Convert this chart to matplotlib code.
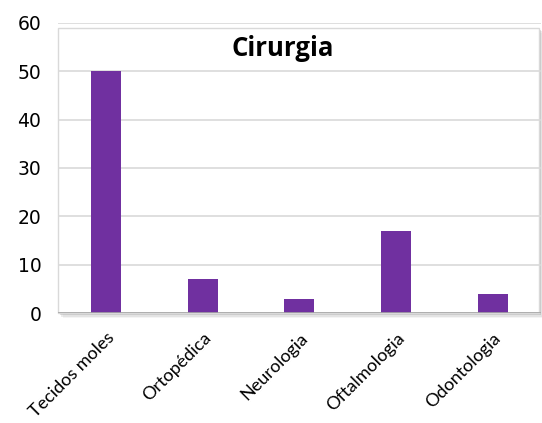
import matplotlib.pyplot as plt
from matplotlib.patches import Rectangle

# data
categorias = ['Tecidos moles', 'Ortopédica', 'Neurologia', 'Oftalmologia', 'Odontologia']
valores = [50, 7, 3, 17, 4]
yticks = [0, 10, 20, 30, 40, 50, 60]

fig = plt.figure(figsize=(5.42, 4.23), dpi=100)
l, b, w, h = 0.107, 0.26, 0.891, 0.686
ax = fig.add_axes([l, b, w, h])
ax.set_zorder(2)

# shadow of the plot area
for off, a in [(5, 0.08), (3.5, 0.14), (2, 0.25)]:
    dx = off / 542
    dy = off / 423
    fig.patches.append(Rectangle((l + dx, b - dy), w - 0.004, h - 0.012, transform=fig.transFigure,
                                 facecolor='#7f7f7f', alpha=a, edgecolor='none', zorder=0))
fig.patches.append(Rectangle((l, b), w - 0.004, h - 0.012, transform=fig.transFigure,
                             facecolor='white', edgecolor='#d9d9d9', lw=1, zorder=0.5))
ax.set_facecolor('none')

x = range(len(categorias))
ax.bar(x, valores, width=0.31, color='#7030A0', zorder=3)
ax.set_xlim(-0.5, len(categorias) - 0.5)
ax.set_ylim(0, 60)
ax.set_yticks(yticks)
ax.grid(axis='y', color='#d9d9d9', lw=1.2, zorder=0)
for s in ax.spines.values():
    s.set_visible(False)
ax.tick_params(length=0)
ax.tick_params(axis='y', labelsize=13.5, pad=12)
ax.set_xticks(list(x))
ax.set_xticklabels(categorias, rotation=45, ha='right', rotation_mode='anchor',
                   fontsize=13, family='Lato')
ax.tick_params(axis='x', pad=12)
ax.axhline(0, color='#a6a6a6', lw=1.2, zorder=4)

ax.text(0.466, 0.886, 'Cirurgia', transform=ax.transAxes, ha='center', va='baseline',
        fontsize=18.5, fontweight='bold', family='Open Sans')

fig.savefig('out.png', dpi=100)
